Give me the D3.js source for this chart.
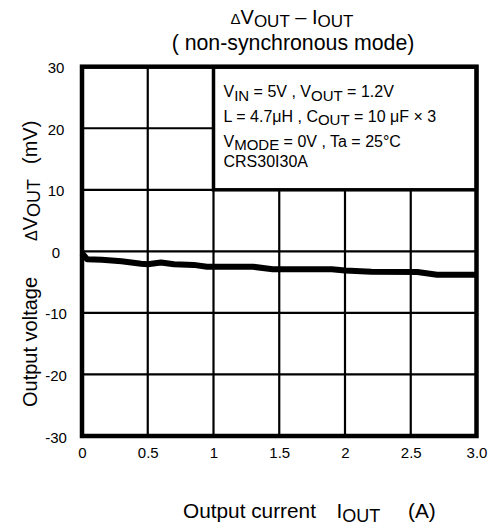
<!DOCTYPE html>
<html>
<head>
<meta charset="utf-8">
<script src="https://cdn.jsdelivr.net/npm/d3@7/dist/d3.min.js"></script>
<style>
  html, body { margin: 0; padding: 0; background: #fff; }
  svg { display: block; }
  text { font-family: "Liberation Sans", Arial, Helvetica, sans-serif; fill: #000; }
</style>
</head>
<body>
<svg id="chart" width="496" height="529"></svg>
<script>
// ---- data ----
const currentA = [0, 0.04, 0.15, 0.3, 0.45, 0.5, 0.6, 0.7, 0.85, 0.95, 1.3, 1.45, 1.9, 2.0, 2.2, 2.55, 2.7, 3.0];
const deltaVmV = [-0.3, -1.3, -1.35, -1.6, -2.0, -2.1, -1.8, -2.1, -2.2, -2.5, -2.5, -2.9, -2.9, -3.1, -3.3, -3.35, -3.8, -3.8];
const xTicks = [0, 0.5, 1, 1.5, 2, 2.5, 3];
const xTickLabels = ["0", "0.5", "1", "1.5", "2", "2.5", "3.0"];
const yTicks = [-30, -20, -10, 0, 10, 20, 30];
const yTickLabels = ["-30", "-20", "-10", "0", "10", "20", "30"];

const svg = d3.select("#chart");
const pL = 82, pR = 476.5, pT = 66.7, pB = 436;
const x = d3.scaleLinear().domain([0, 3]).range([pL, pR]);
const y = d3.scaleLinear().domain([-30, 30]).range([pB, pT]);

// grid
const g = svg.append("g");
g.selectAll("line.v").data(xTicks.slice(1, -1)).join("line")
  .attr("class", "v")
  .attr("x1", d => x(d)).attr("x2", d => x(d))
  .attr("y1", pT).attr("y2", pB)
  .attr("stroke", "#000").attr("stroke-width", 2.2);
g.selectAll("line.h").data(yTicks.slice(1, -1)).join("line")
  .attr("class", "h")
  .attr("y1", d => y(d)).attr("y2", d => y(d))
  .attr("x1", pL).attr("x2", pR)
  .attr("stroke", "#000").attr("stroke-width", 2.2);

// data line
const line = d3.line().x((d, i) => x(currentA[i])).y(d => y(d));
svg.append("path").datum(deltaVmV)
  .attr("d", line)
  .attr("fill", "none").attr("stroke", "#000")
  .attr("stroke-width", 6).attr("stroke-linejoin", "round");

// legend box
svg.append("rect")
  .attr("x", x(1)).attr("y", y(30))
  .attr("width", x(3) - x(1)).attr("height", y(10) - y(30))
  .attr("fill", "#fff").attr("stroke", "#000").attr("stroke-width", 3.5);

// frame
svg.append("rect")
  .attr("x", pL).attr("y", pT)
  .attr("width", pR - pL).attr("height", pB - pT)
  .attr("fill", "none").attr("stroke", "#000").attr("stroke-width", 4.5);

// axes (labels only)
const xAxis = d3.axisBottom(x).tickValues(xTicks)
  .tickFormat((d, i) => xTickLabels[i]).tickSize(0).tickPadding(0);
const xa = svg.append("g").attr("transform", `translate(0,${pB})`).call(xAxis);
xa.select(".domain").remove();
xa.selectAll("text").attr("y", 22).attr("dy", 0).attr("fill", "#000")
  .style("font-size", "15px").style("font-family", '"Liberation Sans", Arial, sans-serif');

const yAxis = d3.axisLeft(y).tickValues(yTicks)
  .tickFormat((d, i) => yTickLabels[i]).tickSize(0).tickPadding(0);
const ya = svg.append("g").attr("transform", `translate(${pL},0)`).call(yAxis);
ya.select(".domain").remove();
ya.selectAll("text").attr("x", -26).attr("dy", "0.4em").attr("text-anchor", "middle").attr("fill", "#000")
  .style("font-size", "15px").style("font-family", '"Liberation Sans", Arial, sans-serif');

// tspans with subscript baseline shift
function rich(parent, parts, size, subSize, shift) {
  parts.forEach(([t, sub], i) => {
    const prevSub = i > 0 && parts[i - 1][1];
    const ts = parent.append("tspan").text(t);
    let dy = 0;
    if (sub && !prevSub) dy = shift;
    if (!sub && prevSub) dy = -shift;
    if (dy) ts.attr("dy", dy);
    ts.style("font-size", (sub ? subSize : size) + "px");
  });
}

// title
const t1 = svg.append("text").attr("x", 292).attr("y", 23.5).attr("text-anchor", "middle");
t1.append("tspan").text("\u0394").style("font-size", "15px");
rich(t1, [["V", false], ["OUT", true], [" \u2013 I", false], ["OUT", true]], 20, 17, 3);
svg.append("text").attr("x", 293).attr("y", 49.5).attr("text-anchor", "middle")
  .style("font-size", "21.3px").text("( non-synchronous mode)");

// legend text
const lx = 223.5;
const l1 = svg.append("text").attr("x", lx).attr("y", 97);
rich(l1, [["V", false], ["IN", true], [" = 5V , V", false], ["OUT", true], [" = 1.2V", false]], 16, 15, 3.5);
const l2 = svg.append("text").attr("x", lx).attr("y", 121.5);
rich(l2, [["L = 4.7\u03bcH , C", false], ["OUT", true], [" = 10 \u03bcF \u00d7 3", false]], 16, 15, 3.5);
const l3 = svg.append("text").attr("x", lx).attr("y", 146.5);
rich(l3, [["V", false], ["MODE", true], [" = 0V , Ta = 25\u00b0C", false]], 16, 15, 3.5);
svg.append("text").attr("x", lx).attr("y", 166.5).style("font-size", "16px").text("CRS30I30A");

// x axis label
svg.append("text").attr("x", 183).attr("y", 518).style("font-size", "20.8px").text("Output current");
const xl = svg.append("text").attr("x", 336.5).attr("y", 518);
rich(xl, [["I", false], ["OUT", true]], 20.8, 18, 3.5);
svg.append("text").attr("x", 408).attr("y", 518).style("font-size", "20.8px").text("(A)");

// y axis label
svg.append("text").attr("transform", "translate(36.5,407) rotate(-90)")
  .style("font-size", "20px").text("Output voltage");
const yl = svg.append("text").attr("transform", "translate(36.5,241) rotate(-90)");
yl.append("tspan").text("\u0394").style("font-size", "16px");
rich(yl, [["V", false], ["OUT", true]], 20, 18, 3.5);
svg.append("text").attr("transform", "translate(36.5,164) rotate(-90)")
  .style("font-size", "20px").text("(mV)");
</script>
</body>
</html>
